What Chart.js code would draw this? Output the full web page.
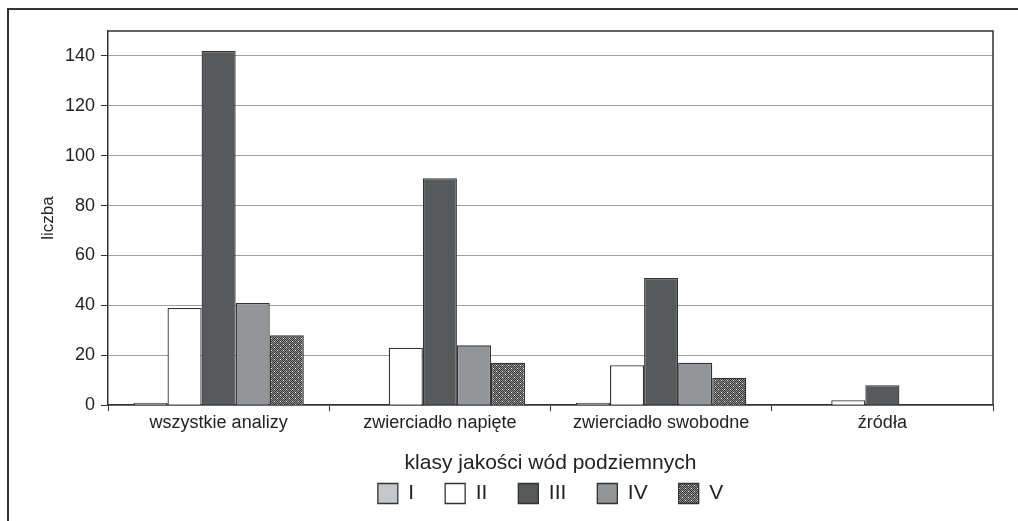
<!DOCTYPE html>
<html>
<head>
<meta charset="utf-8">
<script src="https://cdn.jsdelivr.net/npm/chart.js@4.4.1/dist/chart.umd.min.js"></script>
<style>
  html, body { margin: 0; padding: 0; background: #fff; overflow: hidden; }
  #frame { position: absolute; left: 7px; top: 8px; border-top: 2px solid #333; border-left: 2px solid #333; }
  #wrap { position: relative; width: 1009px; height: 511px; }
</style>
</head>
<body>
<div id="frame"><div id="wrap"><canvas id="chart"></canvas></div></div>
<script>
// ── Data ──
const categories = ['wszystkie analizy', 'zwierciadło napięte', 'zwierciadło swobodne', 'źródła'];
const classNames = ['I', 'II', 'III', 'IV', 'V'];
const classI   = [1, 0, 1, 0];
const classII  = [39, 23, 16, 2];
const classIII = [142, 91, 51, 8];
const classIV  = [41, 24, 17, 0];
const classV   = [28, 17, 11, 0];
const yTicks = [0, 20, 40, 60, 80, 100, 120, 140];

const FONT = '"Liberation Sans", Arial, sans-serif';
const TEXT = '#222';
const EDGE = '#333';

// dotted fill for class V
function makeDots() {
  const c = document.createElement('canvas');
  c.width = 6; c.height = 6;
  const g = c.getContext('2d');
  g.fillStyle = '#3c3c3c';
  g.fillRect(0, 0, 6, 6);
  g.fillStyle = '#8a8a8a';
  for (let y = 0; y < 6; y++)
    for (let x = 0; x < 6; x++)
      if ((x + y) % 2 === 0) g.fillRect(x, y, 1, 1);
  g.fillStyle = '#fff';
  g.fillRect(1, 1, 1, 1);
  g.fillRect(4, 4, 1, 1);
  return g.createPattern(c, 'repeat');
}

const fills = ['#c6c7c8', '#ffffff', '#58595b', '#939598', makeDots()];
const series = [classI, classII, classIII, classIV, classV];

// frame on top and right of the plot
const plotFrame = {
  id: 'plotFrame',
  afterDraw(chart) {
    const { ctx, chartArea: a } = chart;
    ctx.save();
    ctx.strokeStyle = EDGE;
    ctx.lineWidth = 1.5;
    ctx.beginPath();
    ctx.moveTo(a.left, a.top);
    ctx.lineTo(a.right, a.top);
    ctx.lineTo(a.right, a.bottom);
    ctx.stroke();
    ctx.restore();
  }
};

new Chart(document.getElementById('chart'), {
  type: 'bar',
  data: {
    labels: categories,
    datasets: series.map((d, i) => ({
      label: classNames[i],
      data: d,
      backgroundColor: fills[i],
      borderColor: EDGE,
      borderWidth: 1.3,
      borderSkipped: 'bottom',
      categoryPercentage: 0.77,
      barPercentage: 1.0,
    })),
  },
  options: {
    responsive: true,
    maintainAspectRatio: false,
    animation: false,
    layout: { padding: { top: 21, right: 25, left: 25, bottom: 7 } },
    plugins: {
      tooltip: { enabled: false },
      legend: {
        position: 'bottom',
        fullSize: false,
        title: {
          display: true,
          text: 'klasy jakości wód podziemnych',
          color: TEXT,
          font: { family: FONT, size: 21 },
          padding: { top: 18, bottom: -26 },
        },
        labels: {
          color: TEXT,
          font: { family: FONT, size: 21 },
          boxWidth: 20,
          boxHeight: 20,
          padding: 31,
        },
      },
    },
    scales: {
      x: {
        grid: { display: true, drawOnChartArea: false, drawTicks: true, tickLength: 6, color: EDGE, offset: true },
        border: { color: EDGE, width: 1.5 },
        ticks: { color: TEXT, font: { family: FONT, size: 18 }, padding: 1, maxRotation: 0 },
      },
      y: {
        min: 0,
        max: 150,
        afterBuildTicks: s => { s.ticks = yTicks.map(v => ({ value: v })); },
        afterFit: s => { s.width = 74; },
        grid: { color: '#a0a0a0', lineWidth: 1, tickLength: 7, tickColor: EDGE },
        border: { color: EDGE, width: 1.5 },
        ticks: { color: TEXT, font: { family: FONT, size: 18 }, padding: 6 },
        title: { display: true, text: 'liczba', color: TEXT, font: { family: FONT, size: 17 }, padding: { top: 4, bottom: 0 } },
      },
    },
  },
  plugins: [plotFrame],
});
</script>
</body>
</html>
